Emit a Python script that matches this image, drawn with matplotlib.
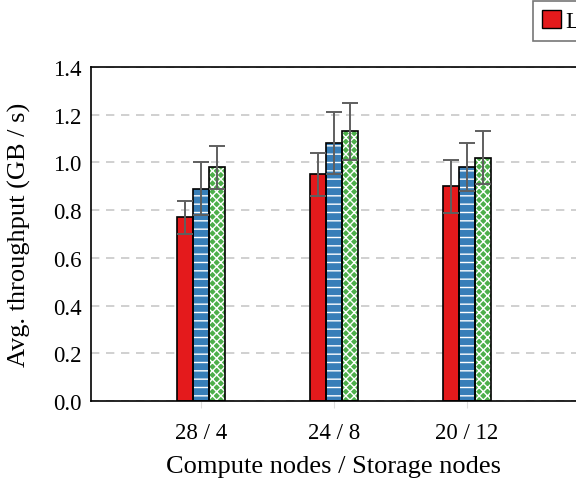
import matplotlib
matplotlib.use("Agg")
import matplotlib.pyplot as plt
import matplotlib.patches as mpatches
import numpy as np

plt.rcParams['font.family'] = ['Liberation Serif', 'DejaVu Serif']
plt.rcParams['hatch.linewidth'] = 1.0

categories = ["28 / 4", "24 / 8", "20 / 12"]
series_names = ["Lustre", "BeeGFS", "GlusterFS"]
values = {
    "Lustre": [0.77, 0.95, 0.90],
    "BeeGFS": [0.89, 1.08, 0.98],
    "GlusterFS": [0.98, 1.13, 1.02],
}
errors = {
    "Lustre": [0.07, 0.09, 0.11],
    "BeeGFS": [0.11, 0.13, 0.10],
    "GlusterFS": [0.09, 0.12, 0.11],
}
colors = ["#E41A1C", "#377EB8", "#4DAF4A"]
hatches = [None, "--", "xxxx"]

fig = plt.figure(figsize=(5.76, 4.89), dpi=100)
ax = fig.add_axes([91/576, 87/489, 486/576, 334/489])

x = np.arange(len(categories))
w = 0.12
handles = []
for i, name in enumerate(series_names):
    xs = x + (i - 1) * w
    ax.bar(xs, values[name], w, color=colors[i], hatch=hatches[i],
           edgecolor="white", linewidth=0, zorder=2)
    ax.bar(xs, values[name], w, fill=False, edgecolor="black",
           linewidth=1.2, zorder=3)
    ax.errorbar(xs, values[name], yerr=errors[name], fmt="none",
                ecolor="#5f5f5f", elinewidth=1.4, capsize=5.5,
                capthick=1.4, zorder=4)
    handles.append(mpatches.Patch(facecolor=colors[i], edgecolor="black",
                                  hatch=hatches[i], linewidth=1.0))

ax.set_xlim(-0.827, 2.827)
ax.set_ylim(0, 1.4)
yt = np.arange(0, 1.41, 0.2)
ax.set_yticks(yt)
ax.set_yticklabels([f"{v:.1f}" for v in yt])
ax.set_xticks(x)
ax.set_xticklabels(categories)
ax.tick_params(axis="y", length=0, pad=7, labelsize=16.5)
ax.tick_params(axis="x", length=5, color="#dddddd", pad=10, labelsize=16.5)
ax.yaxis.grid(True, color="#c8c8c8", linestyle=(0, (5, 4)), linewidth=1.2)
ax.set_axisbelow(True)
for s in ax.spines.values():
    s.set_linewidth(1.2)
    s.set_color("black")

ax.set_xlabel("Compute nodes / Storage nodes", fontsize=19)
ax.set_ylabel("Avg. throughput (GB / s)", fontsize=19)
ax.xaxis.set_label_coords(0.5, -(473 - 402) / 334, transform=ax.transAxes)
ax.xaxis.label.set_va("baseline")
ax.yaxis.set_label_coords((19 - 91) / 486, 0.5, transform=ax.transAxes)
ax.yaxis.label.set_va("center")

leg = fig.legend(handles, series_names, loc="upper left",
                 bbox_to_anchor=(533/576, 1 - 2/489), ncol=3,
                 fontsize=16.5, frameon=True, fancybox=False,
                 handlelength=0.8, handleheight=0.8, handletextpad=0.2,
                 borderpad=0.4, columnspacing=1.0, borderaxespad=0)
leg.get_frame().set_edgecolor("#555555")
leg.get_frame().set_linewidth(1.2)

fig.savefig("out.png", dpi=100)
